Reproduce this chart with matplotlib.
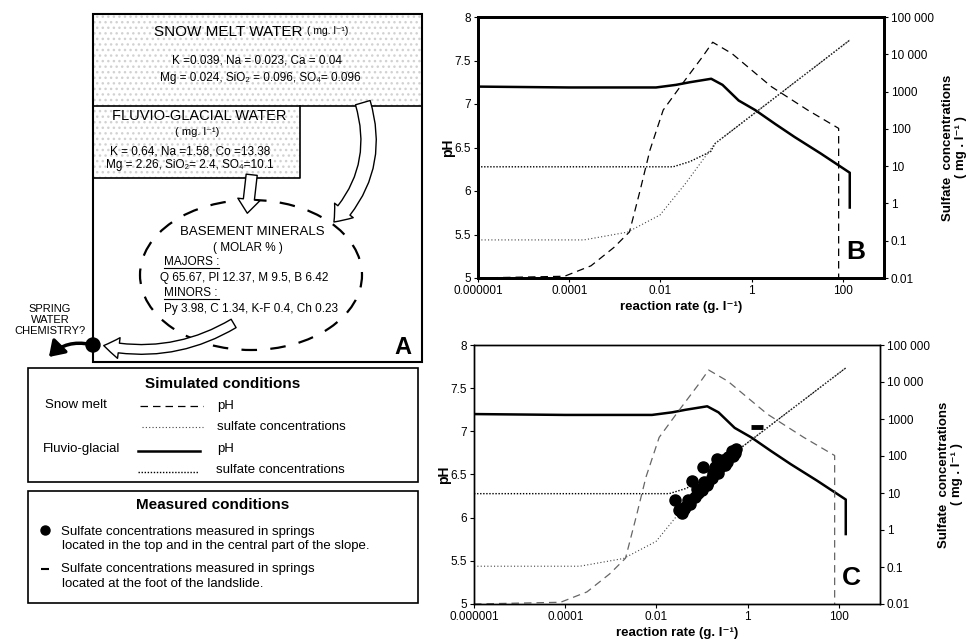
import matplotlib.pyplot as plt
from matplotlib.patches import Rectangle, Ellipse, Circle, FancyArrowPatch
from matplotlib.ticker import NullLocator

plt.rcParams['font.family'] = ['Liberation Sans', 'DejaVu Sans']

# model curves (reaction rate in g/l)
rate_fg_ph = [1e-6, 1e-4, 0.0016, 0.008, 0.022, 0.044, 0.13, 0.23, 0.52, 1.2, 3.3, 8.8, 33, 142, 142]
ph_fg = [7.20, 7.19, 7.19, 7.19, 7.22, 7.25, 7.29, 7.22, 7.04, 6.93, 6.77, 6.62, 6.43, 6.21, 5.81]

rate_sm_ph = [1e-6, 7.9e-5, 3e-4, 9.5e-4, 0.0021, 0.0036, 0.0059, 0.0115, 0.031, 0.083, 0.14,
              0.37, 2.7, 17, 81, 81]
ph_sm = [5.0, 5.02, 5.14, 5.35, 5.53, 6.01, 6.47, 6.93, 7.24, 7.54, 7.71, 7.58, 7.20, 6.93, 6.72, 5.0]

rate_fg_so4 = [1e-6, 0.019, 0.044, 0.126, 0.16, 1.29, 142]
so4_fg = [9.6, 9.6, 13.2, 24.5, 41, 290, 24000]

rate_sm_so4 = [1e-6, 2.1e-4, 0.0019, 0.0098, 0.036, 0.138, 0.16, 1.29, 142]
so4_sm = [0.105, 0.105, 0.17, 0.49, 3.5, 33, 41, 290, 24000]

# measured springs (panel C)
rate_top = [0.025, 0.031, 0.036, 0.040, 0.043, 0.050, 0.055, 0.060, 0.071, 0.079, 0.083, 0.100,
            0.107, 0.112, 0.126, 0.138, 0.162, 0.178, 0.195, 0.209, 0.229, 0.251, 0.295, 0.316,
            0.355, 0.380, 0.447, 0.479, 0.525, 0.562]
so4_top = [6.5, 3.5, 2.8, 3.8, 4.3, 6.3, 5.2, 21, 7.9, 12.6, 9.8, 12,
           51, 20, 16.6, 20.4, 25, 35, 51, 81, 34, 50, 78, 58,
           71, 95, 138, 100, 117, 158]
rate_foot = [1.58]
so4_foot = [620]

xticks = [1e-6, 1e-4, 0.01, 1, 100]
xtick_labels = ['0.000001', '0.0001', '0.01', '1', '100']
so4_ticks = [0.01, 0.1, 1, 10, 100, 1000, 10000, 100000]
so4_tick_labels = ['0.01', '0.1', '1', '10', '100', '1000', '10 000', '100 000']
ph_ticks = [5, 5.5, 6, 6.5, 7, 7.5, 8]
ph_tick_labels = ['5', '5.5', '6', '6.5', '7', '7.5', '8']

fig = plt.figure(figsize=(9.69, 6.44), dpi=100)


def panel(rect, letter, spine_w, sm_color, with_points):
    ax = fig.add_axes(rect)
    ax.set_xscale('log')
    ax.set_xlim(1e-6, 800)
    ax.set_ylim(5, 8)
    ax.plot(rate_fg_ph, ph_fg, color='black', lw=1.8)
    ax.plot(rate_sm_ph, ph_sm, color=sm_color, lw=0.9, dashes=(6, 4))
    ax.set_xticks(xticks)
    ax.set_xticklabels(xtick_labels)
    ax.xaxis.set_minor_locator(NullLocator())
    ax.set_yticks(ph_ticks)
    ax.set_yticklabels(ph_tick_labels)
    ax.tick_params(labelsize=8.5, length=3, width=0.8, pad=2)
    ax.set_xlabel('reaction rate (g. l⁻¹)', fontsize=9.5, fontweight='bold', labelpad=3)
    ax.set_ylabel('pH', fontsize=10, fontweight='bold', labelpad=0)

    ax2 = ax.twinx()
    ax2.set_yscale('log')
    ax2.set_ylim(0.01, 100000)
    ax2.plot(rate_fg_so4, so4_fg, color='black', lw=1.0, dashes=(1, 1.2))
    ax2.plot(rate_sm_so4, so4_sm, color='#444444', lw=0.8, dashes=(1, 2))
    if with_points:
        ax2.plot(rate_top, so4_top, 'o', color='black', ms=8, mec='black')
        ax2.plot(rate_foot, so4_foot, '_', color='black', ms=9, mew=3.5)
    ax2.set_yticks(so4_ticks)
    ax2.set_yticklabels(so4_tick_labels)
    ax2.yaxis.set_minor_locator(NullLocator())
    ax2.tick_params(labelsize=8.5, length=3, width=0.8, pad=2)
    ax2.set_ylabel('Sulfate  concentrations\n( mg . l⁻¹ )', fontsize=9.5, fontweight='bold',
                   labelpad=6, linespacing=1.1)
    for a in (ax, ax2):
        for s in a.spines.values():
            s.set_linewidth(spine_w)
    ax.text(0.93, 0.1, letter, transform=ax.transAxes, fontsize=19, fontweight='bold',
            ha='center', va='center')
    return ax


panel([478 / 969, 1 - 278 / 644, 406 / 969, 261 / 644], 'B', 2.0, 'black', False)
panel([474 / 969, 1 - 604 / 644, 406 / 969, 259 / 644], 'C', 1.0, '#666666', True)

# ---- diagram A and legends drawn in pixel space ----
ov = fig.add_axes([0, 0, 1, 1])
ov.set_xlim(0, 969)
ov.set_ylim(644, 0)
ov.axis('off')

stip = '#d2d2d2'
ov.add_patch(Rectangle((93, 14), 329, 92, facecolor='white', edgecolor=stip, lw=0, hatch='...'))
ov.add_patch(Rectangle((93, 106), 207, 72, facecolor='white', edgecolor=stip, lw=0, hatch='...'))
ov.add_patch(Rectangle((93, 14), 329, 348, fill=False, edgecolor='black', lw=1.5))
ov.plot([93, 422], [106, 106], color='black', lw=1.2)
ov.plot([300, 300, 93], [106, 178, 178], color='black', lw=1.2)

ov.text(154, 32, 'SNOW MELT WATER', fontsize=11, ha='left', va='center')
ov.text(307, 31, '( mg. l⁻¹)', fontsize=7.5, ha='left', va='center')
ov.text(257, 60, 'K =0.039, Na = 0.023, Ca = 0.04', fontsize=8.5, ha='center', va='center')
ov.text(260, 78, 'Mg = 0.024, SiO₂ = 0.096, SO₄= 0.096', fontsize=8.5, ha='center', va='center')
ov.text(199, 116, 'FLUVIO-GLACIAL WATER', fontsize=10.5, ha='center', va='center')
ov.text(197, 132, '( mg. l⁻¹)', fontsize=8, ha='center', va='center')
ov.text(190, 151, 'K = 0.64, Na =1.58, Co =13.38', fontsize=8.5, ha='center', va='center')
ov.text(190, 165, 'Mg = 2.26, SiO₂= 2.4, SO₄=10.1', fontsize=8.5, ha='center', va='center')

ov.add_patch(Ellipse((251, 275), 222, 150, fill=False, edgecolor='black', lw=1.6,
                     ls=(0, (7, 6))))
ov.text(252, 232, 'BASEMENT MINERALS', fontsize=9.5, ha='center', va='center')
ov.text(248, 248, '( MOLAR % )', fontsize=8.5, ha='center', va='center')
ov.text(164, 262, 'MAJORS :', fontsize=8.5, ha='left', va='center')
ov.plot([164, 219], [268, 268], color='black', lw=0.8)
ov.text(160, 278, 'Q 65.67, Pl 12.37, M 9.5, B 6.42', fontsize=8.5, ha='left', va='center')
ov.text(164, 293, 'MINORS :', fontsize=8.5, ha='left', va='center')
ov.plot([164, 219], [299, 299], color='black', lw=0.8)
ov.text(164, 309, 'Py 3.98, C 1.34, K-F 0.4, Ch 0.23', fontsize=8.5, ha='left', va='center')
ov.text(403, 347, 'A', fontsize=17, fontweight='bold', ha='center', va='center')

hollow = dict(facecolor='white', edgecolor='black', lw=1.0, mutation_scale=1, zorder=5)
ov.add_patch(FancyArrowPatch((362, 100), (332, 224),
                             arrowstyle='simple,head_width=17,head_length=11,tail_width=11',
                             connectionstyle='arc3,rad=-0.3', **hollow))
ov.add_patch(FancyArrowPatch((252, 172), (247, 216),
                             arrowstyle='simple,head_width=16,head_length=10,tail_width=8',
                             **hollow))
ov.add_patch(FancyArrowPatch((236, 322), (101, 345),
                             arrowstyle='simple,head_width=15,head_length=11,tail_width=7',
                             connectionstyle='arc3,rad=-0.2', **hollow))
ov.add_patch(FancyArrowPatch((93, 345), (47, 359), arrowstyle='-|>,head_width=4,head_length=6',
                             connectionstyle='arc3,rad=0.3', color='black', lw=2.5,
                             mutation_scale=1.5, zorder=6))
ov.add_patch(Circle((93, 345), 7, color='black', zorder=7))
ov.text(50, 320, 'SPRING\nWATER\nCHEMISTRY?', fontsize=8, ha='center', va='center',
        linespacing=1.15)

# simulated conditions legend
ov.add_patch(Rectangle((28, 368), 390, 114, fill=False, edgecolor='black', lw=1.2))
ov.text(223, 384, 'Simulated conditions', fontsize=11, fontweight='bold', ha='center', va='center')
ov.text(45, 405, 'Snow melt', fontsize=9.5, ha='left', va='center')
ov.plot([140, 203], [406, 406], color='black', lw=0.9, dashes=(6, 4))
ov.text(217, 406, 'pH', fontsize=9.5, ha='left', va='center')
ov.plot([142, 203], [427, 427], color='#444444', lw=0.8, dashes=(1, 2))
ov.text(217, 427, 'sulfate concentrations', fontsize=9.5, ha='left', va='center')
ov.text(43, 449, 'Fluvio-glacial', fontsize=9.5, ha='left', va='center')
ov.plot([138, 200], [451, 451], color='black', lw=1.8)
ov.text(217, 449, 'pH', fontsize=9.5, ha='left', va='center')
ov.plot([138, 198], [472, 472], color='black', lw=1.0, dashes=(1, 1.2))
ov.text(216, 470, 'sulfate concentrations', fontsize=9.5, ha='left', va='center')

# measured conditions legend
ov.add_patch(Rectangle((28, 491), 390, 112, fill=False, edgecolor='black', lw=1.2))
ov.text(213, 505, 'Measured conditions', fontsize=11, fontweight='bold', ha='center', va='center')
ov.plot([45], [530], 'o', color='black', ms=6.5)
ov.text(61, 532, 'Sulfate concentrations measured in springs', fontsize=9.5, ha='left',
        va='center')
ov.text(62, 546, 'located in the top and in the central part of the slope.', fontsize=9.5,
        ha='left', va='center')
ov.plot([45], [569], '_', color='black', ms=6, mew=1.5)
ov.text(61, 569, 'Sulfate concentrations measured in springs', fontsize=9.5, ha='left',
        va='center')
ov.text(62, 584, 'located at the foot of the landslide.', fontsize=9.5, ha='left', va='center')

fig.savefig('out.png', dpi=100)
